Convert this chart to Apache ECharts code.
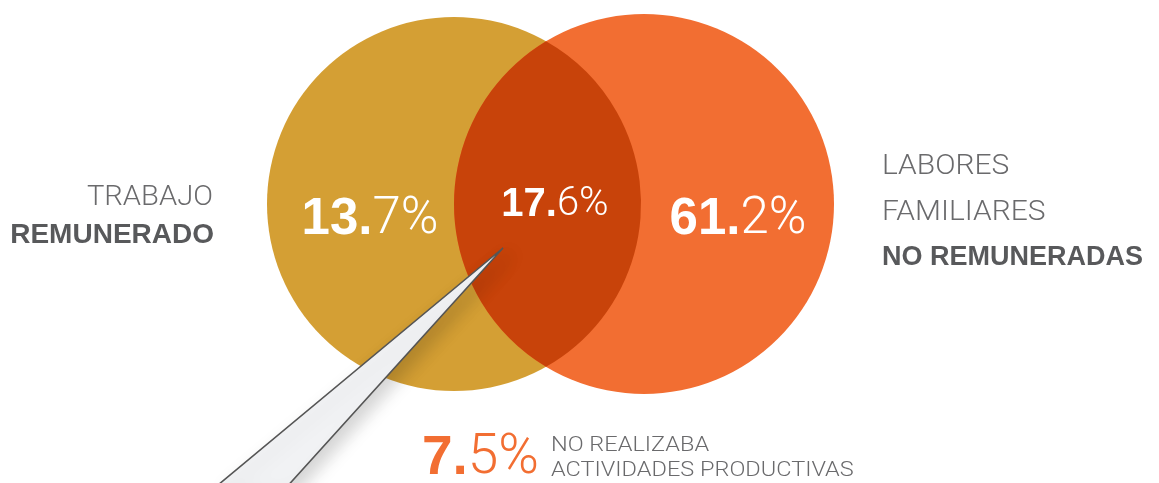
<!DOCTYPE html>
<html>
<head>
<meta charset="utf-8">
<script src="https://cdn.jsdelivr.net/npm/echarts/dist/echarts.min.js"></script>
<style>
html,body{margin:0;padding:0;background:#fff;}
#chart{width:1159px;height:483px;}
</style>
</head>
<body>
<div id="chart"></div>
<script>
// ---- data ----
const categories = ['TRABAJO REMUNERADO', 'AMBOS', 'LABORES FAMILIARES NO REMUNERADAS', 'NO REALIZABA ACTIVIDADES PRODUCTIVAS'];
const shares = [13.7, 17.6, 61.2, 7.5];
const setNames = ['TRABAJO REMUNERADO', 'LABORES FAMILIARES NO REMUNERADAS'];
const setCenterX = [454, 644];
const setCenterY = [204, 204];
const setRadius = [187, 190];
const setColors = ['#D49F34', '#F26E32'];
const overlapColor = '#C8430A';

// label anchor points (x, y) for each share, same order as categories
const shareLabelX = [370, 555, 738, 539];
const shareLabelY = [220, 205, 220, 459];
const shareFont = [51, 40, 51, 55];
const shareColor = ['#ffffff', '#ffffff', '#ffffff', '#F26E32'];

// set-name text lines
const nameText = ['TRABAJO', 'REMUNERADO', 'LABORES', 'FAMILIARES', 'NO REMUNERADAS', 'NO REALIZABA', 'ACTIVIDADES PRODUCTIVAS'];
const nameX = [213, 214, 882, 882, 882, 551, 551];
const nameY = [198, 235, 167, 213, 258, 446, 471];
const nameBold = [false, true, false, false, true, false, false];
const nameSize = [27, 28, 28, 28, 27, 21, 21];
const nameAlign = ['right', 'right', 'left', 'left', 'left', 'left', 'left'];
const nameStretch = [1.08, 1, 1.07, 1.07, 1, 1.12, 1.12];

// pointer wedge: tip, then two base points
const pointerX = [503, 212, 284];
const pointerY = [248, 490, 490];

const textGray = '#6a6a6c';
const boldGray = '#58595b';
const LIGHT = 'Roboto, "Liberation Sans", Arial, sans-serif';
const BOLD = '"Liberation Sans", Arial, Roboto, sans-serif';

function splitShare(v) {
  const s = v.toFixed(1).split('.');
  return '{b|' + s[0] + '.}{l|' + s[1] + '%}';
}

const chart = echarts.init(document.getElementById('chart'), null, {renderer: 'canvas'});

const circleData = setCenterX.map((x, i) => [x, setCenterY[i], setRadius[i]]);
const shareData = shares.map((v, i) => [shareLabelX[i], shareLabelY[i], v]);
const nameData = nameText.map((t, i) => [nameX[i], nameY[i]]);

const option = {
  animation: false,
  grid: {left: 0, right: 0, top: 0, bottom: 0},
  xAxis: {type: 'value', min: 0, max: 1159, show: false},
  yAxis: {type: 'value', min: 0, max: 483, inverse: true, show: false},
  series: [
    {
      type: 'custom',
      coordinateSystem: 'cartesian2d',
      data: circleData,
      z: 1,
      renderItem: function (params, api) {
        const i = params.dataIndex;
        const c = api.coord([api.value(0), api.value(1)]);
        const r = api.size([api.value(2), 0])[0];
        return {
          type: 'circle',
          shape: {cx: c[0], cy: c[1], r: r},
          style: {fill: setColors[i]}
        };
      }
    },
    {
      type: 'custom',
      coordinateSystem: 'cartesian2d',
      data: [0],
      z: 2,
      renderItem: function (params, api) {
        const a = api.coord([setCenterX[0], setCenterY[0]]);
        const b = api.coord([setCenterX[1], setCenterY[1]]);
        const r1 = api.size([setRadius[0], 0])[0];
        const r2 = api.size([setRadius[1], 0])[0];
        const dx = b[0] - a[0], dy = b[1] - a[1];
        const d = Math.sqrt(dx * dx + dy * dy);
        const t = (d * d + r1 * r1 - r2 * r2) / (2 * d);
        const h = Math.sqrt(r1 * r1 - t * t);
        const mx = a[0] + t * dx / d, my = a[1] + t * dy / d;
        const p1 = [mx + h * dy / d, my - h * dx / d];
        const p2 = [mx - h * dy / d, my + h * dx / d];
        const top = p1[1] < p2[1] ? p1 : p2;
        const bot = p1[1] < p2[1] ? p2 : p1;
        const path = 'M' + top[0] + ' ' + top[1] +
          ' A' + r2 + ' ' + r2 + ' 0 0 0 ' + bot[0] + ' ' + bot[1] +
          ' A' + r1 + ' ' + r1 + ' 0 0 0 ' + top[0] + ' ' + top[1] + ' Z';
        return {
          type: 'path',
          shape: {pathData: path},
          style: {fill: overlapColor}
        };
      }
    },
    {
      type: 'custom',
      coordinateSystem: 'cartesian2d',
      data: [0],
      z: 3,
      renderItem: function (params, api) {
        const pts = pointerX.map((x, i) => api.coord([x, pointerY[i]]));
        return {
          type: 'polygon',
          shape: {points: pts},
          style: {
            fill: '#F1F2F4', stroke: '#555555', lineWidth: 1.6,
            shadowColor: 'rgba(0,0,0,0.18)', shadowBlur: 18, shadowOffsetX: 10, shadowOffsetY: 4
          }
        };
      }
    },
    {
      type: 'custom',
      coordinateSystem: 'cartesian2d',
      data: shareData,
      z: 4,
      renderItem: function (params, api) {
        const i = params.dataIndex;
        const c = api.coord([api.value(0), api.value(1)]);
        const fs = shareFont[i];
        return {
          type: 'text',
          x: c[0], y: c[1],
          style: {
            text: splitShare(api.value(2)),
            align: i === 3 ? 'right' : 'center',
            verticalAlign: 'middle',
            fill: shareColor[i],
            rich: {
              b: {fontFamily: BOLD, fontWeight: 'bold', fontSize: fs, fill: shareColor[i]},
              l: {fontFamily: LIGHT, fontWeight: 300, fontSize: fs, fill: shareColor[i]}
            }
          }
        };
      }
    },
    {
      type: 'custom',
      coordinateSystem: 'cartesian2d',
      data: nameData,
      z: 4,
      renderItem: function (params, api) {
        const i = params.dataIndex;
        const c = api.coord([api.value(0), api.value(1)]);
        const b = nameBold[i];
        return {
          type: 'text',
          x: c[0], y: c[1],
          scaleX: nameStretch[i],
          style: {
            text: nameText[i],
            align: nameAlign[i],
            verticalAlign: 'middle',
            fill: b ? boldGray : textGray,
            font: (b ? 'bold ' : '300 ') + nameSize[i] + 'px ' + (b ? BOLD : LIGHT)
          }
        };
      }
    }
  ]
};
chart.setOption(option);
</script>
</body>
</html>
